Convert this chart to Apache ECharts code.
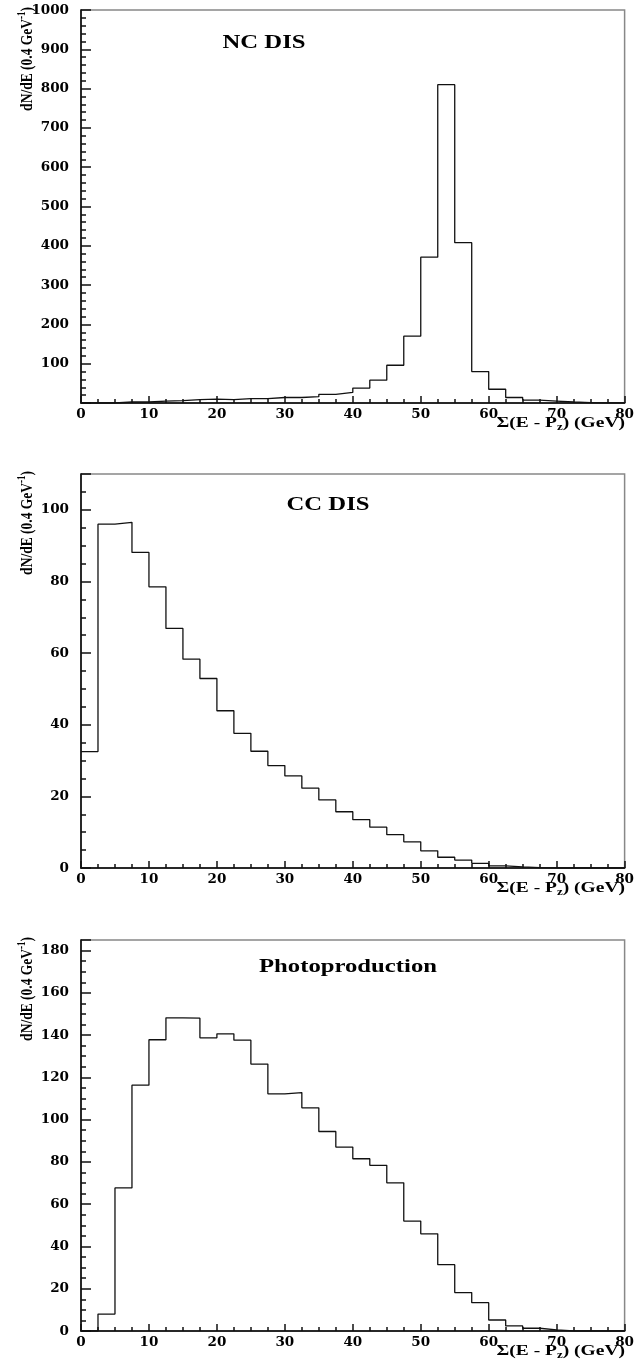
<!DOCTYPE html>
<html>
<head>
<meta charset="utf-8">
<script src="https://cdn.jsdelivr.net/npm/echarts@6/dist/echarts.min.js"></script>
<style>
html,body{margin:0;padding:0;background:#fff;}
#chart{width:637px;height:1367px;}
</style>
</head>
<body>
<div id="chart"></div>
<script>
// Bin edges of Σ(E - Pz) in GeV (2.5 GeV bins)
const binEdges = [0,2.5,5,7.5,10,12.5,15,17.5,20,22.5,25,27.5,30,32.5,35,37.5,40,42.5,45,47.5,50,52.5,55,57.5,60,62.5,65,67.5,70,72.5,75,77.5,80];

// NC DIS
const ncValues = [0,0,2.5,2.5,5,6,8.5,10,8.5,11,11,14,14,16,22,27,38,58,96,170,371,810,408,80,35,14,7.5,5,2.5,1,0.5,0.5];
// CC DIS
const ccValues = [32.5,96.0,96.5,88.1,78.5,66.9,58.3,52.9,43.9,37.6,32.6,28.6,25.7,22.3,19.0,15.7,13.5,11.4,9.3,7.3,4.8,3.0,2.2,1.3,0.6,0.3,0.1,0,0,0,0,0];
// Photoproduction
const phValues = [0,8.0,67.7,116.3,137.8,148.2,148.0,138.7,140.6,137.6,126.3,112.2,112.8,105.6,94.4,87.0,81.5,78.4,70.1,52.0,46.0,31.4,18.2,13.4,5.2,2.4,1.3,0.5,0,0,0,0];

const panelTitles = ['NC DIS', 'CC DIS', 'Photoproduction'];
const xTitle = ['Σ(E - P', 'z', ') (GeV)'];
const yTitle = ['dN/dE (0.4 GeV', '-1', ')'];

// y-axis scales per panel: [max, major interval, minor interval]
const yScales = [[1000,100,20],[110,20,5],[185,20,5]];
const yLabelHideZero = [true,false,false];

const panels = [ncValues, ccValues, phValues];

const grids = [
  {left:81, top:10, width:545, height:393},
  {left:81, top:474, width:545, height:394},
  {left:81, top:940, width:545, height:391}
];

const labelFont = {fontFamily:'DejaVu Serif', fontWeight:'bold', fontSize:13.5, color:'#000'};
const tickColor = '#111';

function histPoints(vals){
  const pts = vals.map((v,i)=>[binEdges[i], v]);
  pts.push([binEdges[binEdges.length-1], vals[vals.length-1]]);
  return pts;
}

const option = {
  animation:false,
  grid: grids.map(g=>Object.assign({show:true, borderColor:'#888', borderWidth:1.5}, g)),
  xAxis: grids.map((g,i)=>({
    gridIndex:i, type:'value', min:0, max:80, interval:10,
    axisLine:{show:true, onZero:false, lineStyle:{color:'#000', width:1.5}},
    axisTick:{show:true, inside:true, length:7, lineStyle:{color:tickColor, width:1.5}},
    minorTick:{show:true, splitNumber:4, length:4, lineStyle:{color:tickColor, width:1.5}},
    axisLabel:{margin:4, fontFamily:labelFont.fontFamily, fontWeight:labelFont.fontWeight, fontSize:labelFont.fontSize, color:labelFont.color},
    splitLine:{show:false}
  })),
  yAxis: [],
  series: [],
  graphic: []
};

yScales.forEach((s,i)=>{
  const major = s[1];
  option.yAxis.push({
    gridIndex:i, type:'value', min:0, max:s[0], interval:major, position:'left',
    axisLine:{show:true, lineStyle:{color:'#000', width:1.5}},
    axisTick:{show:true, inside:true, length:10, lineStyle:{color:tickColor, width:1.5}},
    axisLabel:{margin:12, fontFamily:labelFont.fontFamily, fontWeight:labelFont.fontWeight, fontSize:labelFont.fontSize, color:labelFont.color,
      formatter:function(v){
        if (v % major !== 0) return '';
        if (v === 0 && yLabelHideZero[i]) return '';
        return String(v);
      }},
    splitLine:{show:false}
  });
});
yScales.forEach((s,i)=>{
  option.yAxis.push({
    gridIndex:i, type:'value', min:0, max:s[0], interval:s[2], position:'left',
    axisLine:{show:false},
    axisTick:{show:true, inside:true, length:5, lineStyle:{color:tickColor, width:1.5}},
    axisLabel:{show:false},
    splitLine:{show:false}
  });
});

panels.forEach((vals,i)=>{
  option.series.push({
    type:'line', xAxisIndex:i, yAxisIndex:i, step:'end',
    data:histPoints(vals), showSymbol:false,
    lineStyle:{color:'#111', width:1.3}
  });
});

const serif = 'Liberation Serif';
const titlePos = [[264,43],[328,505],[348,967]];
titlePos.forEach((p,i)=>{
  option.graphic.push({
    type:'text', x:p[0], y:p[1], scaleX:1.3,
    style:{text:panelTitles[i], fontFamily:serif, fontWeight:'bold', fontSize:19, fill:'#000', align:'center', verticalAlign:'middle'}
  });
});

grids.forEach((g,i)=>{
  const bottom = g.top + g.height;
  option.graphic.push({
    type:'text', x:625, y:bottom+20, scaleX:1.3,
    style:{
      text:'{b|'+xTitle[0]+'}{s|'+xTitle[1]+'}{b|'+xTitle[2]+'}',
      align:'right', verticalAlign:'middle', fill:'#000',
      rich:{
        b:{fontFamily:serif, fontWeight:'bold', fontSize:15, lineHeight:18, fill:'#000', verticalAlign:'middle'},
        s:{fontFamily:serif, fontWeight:'bold', fontSize:10, lineHeight:10, fill:'#000', verticalAlign:'bottom'}
      }
    }
  });
  option.graphic.push({
    type:'text', x:27, y:g.top-3, rotation:Math.PI/2, scaleY:1.3,
    style:{
      text:'{b|'+yTitle[0]+'}{p|'+yTitle[1]+'}{b|'+yTitle[2]+'}',
      align:'right', verticalAlign:'middle', fill:'#000',
      rich:{
        b:{fontFamily:serif, fontWeight:'bold', fontSize:13.5, lineHeight:17, fill:'#000', verticalAlign:'middle'},
        p:{fontFamily:serif, fontWeight:'bold', fontSize:9, lineHeight:9, fill:'#000', verticalAlign:'top'}
      }
    }
  });
});

const chart = echarts.init(document.getElementById('chart'));
chart.setOption(option);
</script>
</body>
</html>
